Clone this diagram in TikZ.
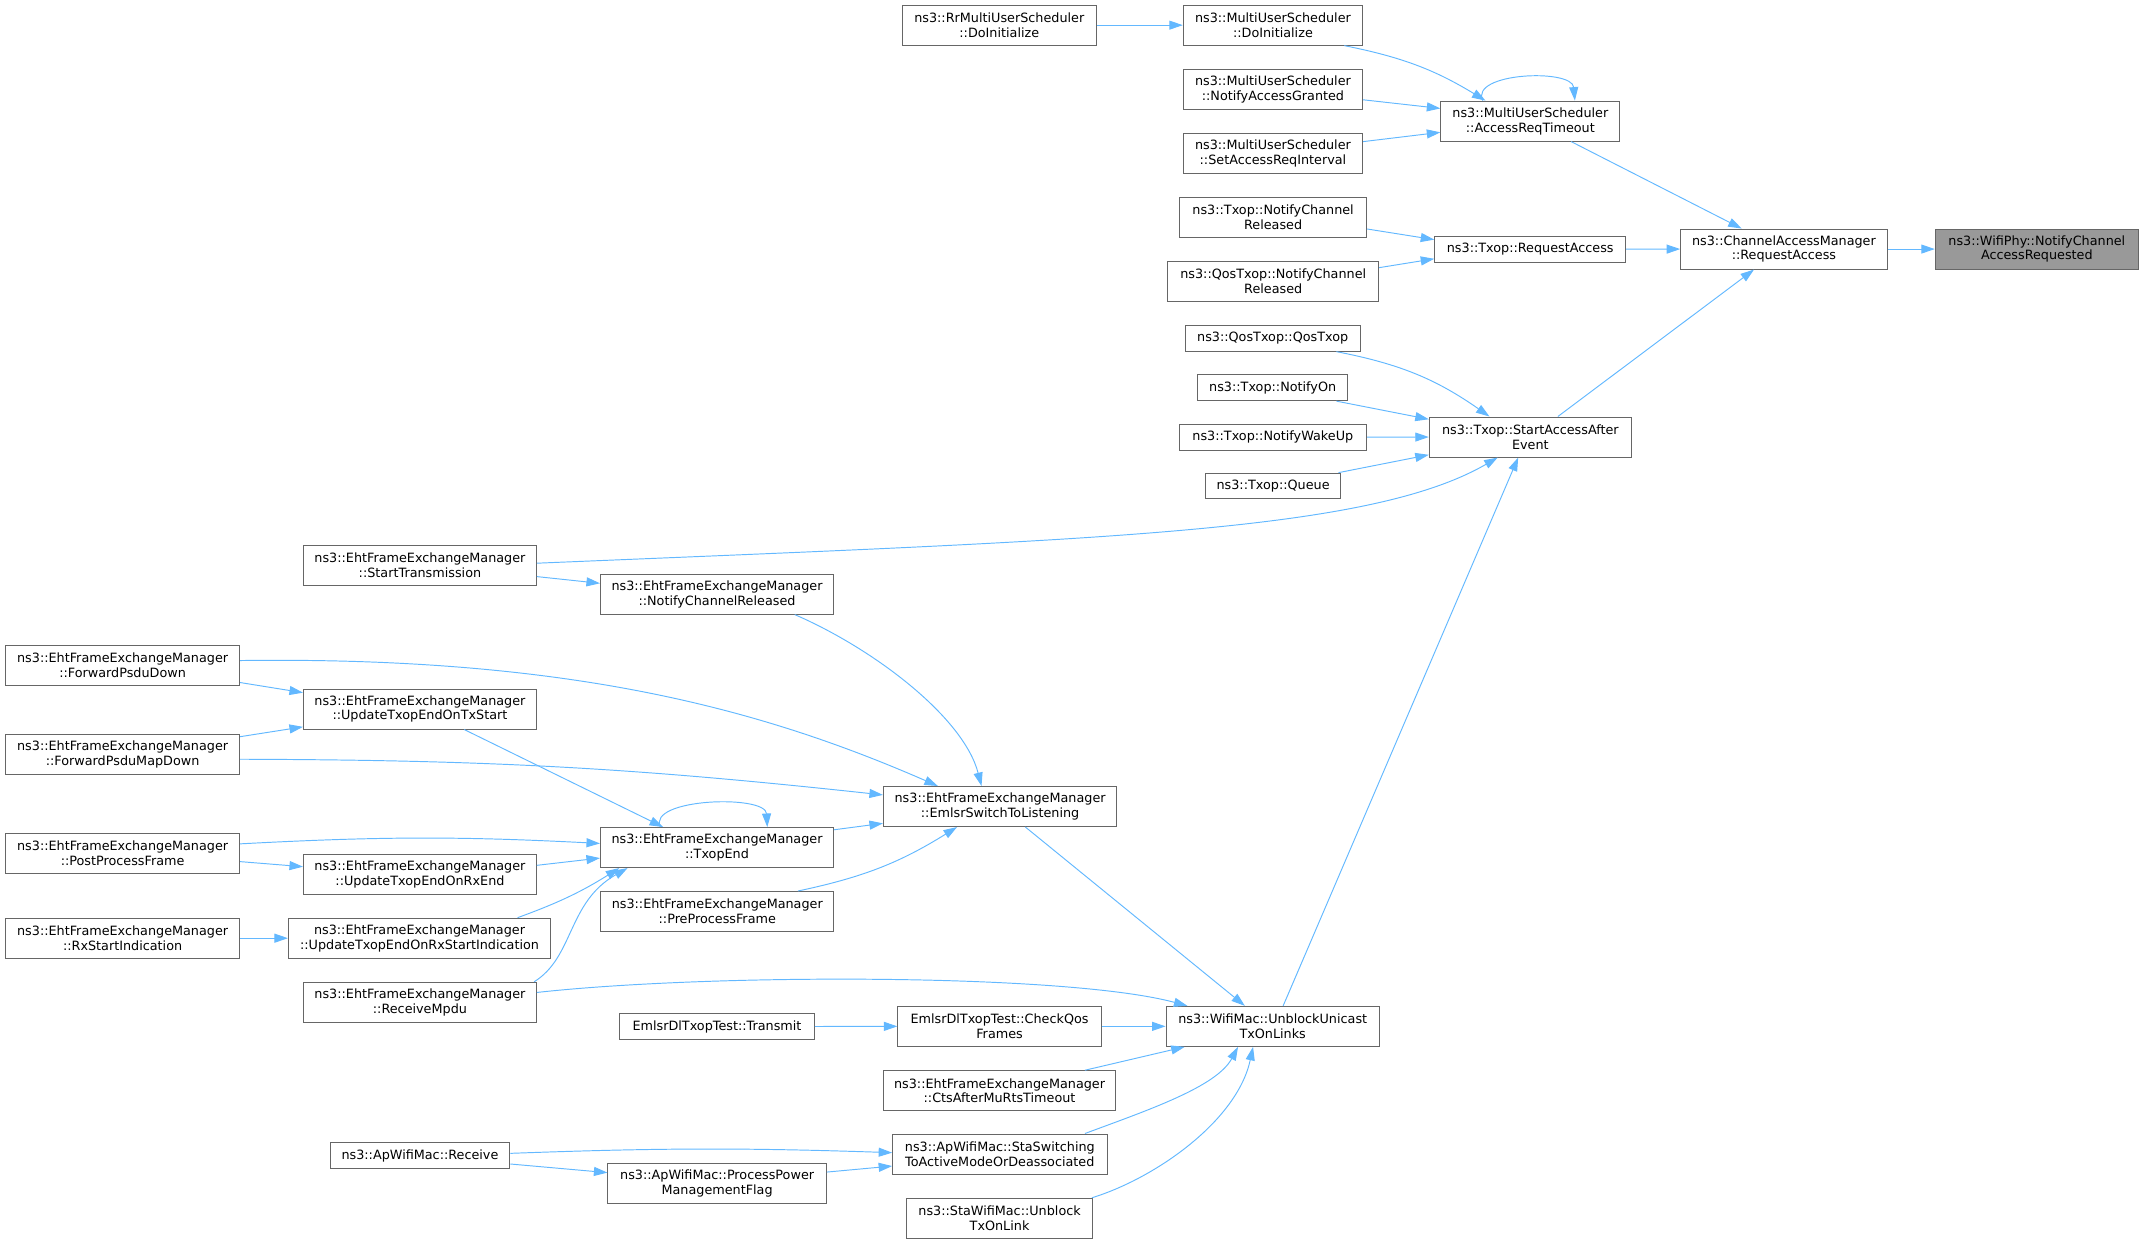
\documentclass[tikz,border=0pt]{standalone}
\usepackage{fontspec}
\setmainfont{DejaVu Sans}
\usetikzlibrary{arrows.meta}
\definecolor{edgeblue}{HTML}{63B8FF}
\definecolor{boxgray}{HTML}{666666}
\definecolor{fillgray}{HTML}{999999}
\begin{document}
\begin{tikzpicture}[x=1pt, y=-1pt,
    fn/.style={draw=boxgray, line width=0.7pt, fill=white, rectangle, align=center,
      minimum height=29.3pt, inner xsep=2pt, inner ysep=0pt,
      font=\fontsize{9.35}{10.8}\selectfont},
    fnone/.style={fn, minimum height=18.8pt},
    call/.style={draw=edgeblue, line width=0.7pt, -{Triangle[length=9.9pt, width=6.6pt]}}]
    \useasboundingbox (0,0) rectangle (1568.4,910);
    % functions
    \node[fn, fill=fillgray, minimum width=148.6pt] (phy) at (1490,182.2) {ns3::WifiPhy::NotifyChannel\\AccessRequested};
    \node[fn, minimum width=151.1pt] (cam) at (1305,182.2) {ns3::ChannelAccessManager\\::RequestAccess};
    \node[fn, minimum width=142pt] (rrInit) at (731,18.4) {ns3::RrMultiUserScheduler\\::DoInitialize};
    \node[fn, minimum width=131.2pt] (musInit) at (931.2,18.4) {ns3::MultiUserScheduler\\::DoInitialize};
    \node[fn, minimum width=131.2pt] (musGranted) at (931.2,65.3) {ns3::MultiUserScheduler\\::NotifyAccessGranted};
    \node[fn, minimum width=131.2pt] (musInterval) at (931.2,112.2) {ns3::MultiUserScheduler\\::SetAccessReqInterval};
    \node[fn, minimum width=131pt] (musTimeout) at (1119.5,88.6) {ns3::MultiUserScheduler\\::AccessReqTimeout};
    \node[fn, minimum width=136.7pt] (txopReleased) at (931.3,158.8) {ns3::Txop::NotifyChannel\\Released};
    \node[fn, minimum width=154.2pt] (qosReleased) at (931.4,205.6) {ns3::QosTxop::NotifyChannel\\Released};
    \node[fnone, minimum width=139.7pt] (txopRequest) at (1119.4,182.3) {ns3::Txop::RequestAccess};
    \node[fnone, minimum width=128pt] (qosTxop) at (931,247.5) {ns3::QosTxop::QosTxop};
    \node[fnone, minimum width=110pt] (notifyOn) at (931,283.7) {ns3::Txop::NotifyOn};
    \node[fnone, minimum width=137.2pt] (wakeUp) at (931.1,319.8) {ns3::Txop::NotifyWakeUp};
    \node[fnone, minimum width=98.8pt] (queue) at (931.3,355.5) {ns3::Txop::Queue};
    \node[fn, minimum width=147.9pt] (saae) at (1119.5,319.7) {ns3::Txop::StartAccessAfter\\Event};
    \node[fn, minimum width=170.4pt] (startTx) at (307.2,413.7) {ns3::EhtFrameExchangeManager\\::StartTransmission};
    \node[fn, minimum width=170.5pt] (ehtReleased) at (524.5,434.6) {ns3::EhtFrameExchangeManager\\::NotifyChannelReleased};
    \node[fn, minimum width=171.3pt] (fwdPsdu) at (89.7,486.7) {ns3::EhtFrameExchangeManager\\::ForwardPsduDown};
    \node[fn, minimum width=170.4pt] (txStart) at (307.2,518.7) {ns3::EhtFrameExchangeManager\\::UpdateTxopEndOnTxStart};
    \node[fn, minimum width=171.3pt] (fwdMap) at (89.7,551.7) {ns3::EhtFrameExchangeManager\\::ForwardPsduMapDown};
    \node[fn, minimum width=170.7pt] (estl) at (731.6,590) {ns3::EhtFrameExchangeManager\\::EmlsrSwitchToListening};
    \node[fn, minimum width=170.5pt] (txopEnd) at (524.5,620) {ns3::EhtFrameExchangeManager\\::TxopEnd};
    \node[fn, minimum width=171.3pt] (postProc) at (89.7,624.2) {ns3::EhtFrameExchangeManager\\::PostProcessFrame};
    \node[fn, minimum width=170.4pt] (rxEnd) at (307.2,639.5) {ns3::EhtFrameExchangeManager\\::UpdateTxopEndOnRxEnd};
    \node[fn, minimum width=170.2pt] (preProc) at (524.7,666.8) {ns3::EhtFrameExchangeManager\\::PreProcessFrame};
    \node[fn, minimum width=171.3pt] (rxStartInd) at (89.7,686.3) {ns3::EhtFrameExchangeManager\\::RxStartIndication};
    \node[fn, minimum width=191.8pt] (rxStartUpd) at (306.9,686.3) {ns3::EhtFrameExchangeManager\\::UpdateTxopEndOnRxStartIndication};
    \node[fn, minimum width=170.4pt] (recvMpdu) at (307.2,733.2) {ns3::EhtFrameExchangeManager\\::ReceiveMpdu};
    \node[fnone, minimum width=142.5pt] (transmit) at (524.5,750.9) {EmlsrDlTxopTest::Transmit};
    \node[fn, minimum width=148.8pt] (checkQos) at (731.2,750.8) {EmlsrDlTxopTest::CheckQos\\Frames};
    \node[fn, minimum width=156pt] (unblock) at (931,750.8) {ns3::WifiMac::UnblockUnicast\\TxOnLinks};
    \node[fn, minimum width=169.8pt] (ctsTimeout) at (731.2,797.9) {ns3::EhtFrameExchangeManager\\::CtsAfterMuRtsTimeout};
    \node[fnone, minimum width=131.6pt] (apRecv) at (307.2,845.4) {ns3::ApWifiMac::Receive};
    \node[fn, minimum width=156.8pt] (staSwitch) at (731.4,844.2) {ns3::ApWifiMac::StaSwitching\\ToActiveModeOrDeassociated};
    \node[fn, minimum width=159.8pt] (powerMgmt) at (524.6,866) {ns3::ApWifiMac::ProcessPower\\ManagementFlag};
    \node[fn, minimum width=136.4pt] (staUnblock) at (731.2,891.2) {ns3::StaWifiMac::Unblock\\TxOnLink};
    % calls, top part
    \draw[call] (cam.east) -- (phy.west);
    \draw[call] ([xshift=95.7pt]musTimeout.south west) -- ([xshift=45pt]cam.north west);
    \draw[call] (txopRequest.east) -- (cam.west);
    \draw[call] ([xshift=94.4pt]saae.north west) -- ([xshift=54pt]cam.south west);
    \draw[call] (rrInit.east) -- (musInit.west);
    \draw[call] ([xshift=118.2pt]musInit.south west) to[bend left=10] ([xshift=33pt]musTimeout.north west);
    \draw[call] ([yshift=-7.7pt]musGranted.east) -- ([yshift=9.3pt]musTimeout.west);
    \draw[call] ([yshift=8.6pt]musInterval.east) -- ([yshift=-8.2pt]musTimeout.west);
    \draw[call] ([xshift=31pt]musTimeout.north west) .. controls (1075,53) and (1150,50) .. ([xshift=98.4pt]musTimeout.north west);
    \draw[call] ([yshift=-8.7pt]txopReleased.east) -- ([yshift=7pt]txopRequest.west);
    \draw[call] ([yshift=9.8pt]qosReleased.east) -- ([yshift=-7pt]txopRequest.west);
    \draw[call] ([xshift=111pt]qosTxop.south west) to[bend left=12] ([xshift=44.4pt]saae.north west);
    \draw[call] ([xshift=102pt]notifyOn.south west) -- ([yshift=-2pt]saae.north west);
    \draw[call] (wakeUp.east) -- (saae.west);
    \draw[call] ([xshift=97.6pt]queue.north west) -- ([yshift=2pt]saae.south west);
    \draw[call] ([yshift=1.7pt]startTx.east) .. controls (800,395) and (1000,390) .. ([xshift=50.4pt]saae.south west);
    \draw[call] ([xshift=86pt]unblock.north west) -- ([xshift=65.4pt]saae.south west);
    % calls, middle part
    \draw[call] ([yshift=-8.1pt]startTx.east) -- ([yshift=7.9pt]ehtReleased.west);
    \draw[call] ([xshift=142.5pt]ehtReleased.south west) .. controls (640,475) and (705,525) .. ([xshift=72.1pt]estl.north west);
    \draw[call] ([yshift=3.5pt]fwdPsdu.east) .. controls (420,480) and (560,520) .. ([xshift=40.2pt]estl.north west);
    \draw[call] ([yshift=-12.6pt]fwdPsdu.east) -- ([yshift=12pt]txStart.west);
    \draw[call] ([yshift=12.8pt]fwdMap.east) -- ([yshift=-13pt]txStart.west);
    \draw[call] ([yshift=-3.7pt]fwdMap.east) to[bend left=3] ([yshift=8.5pt]estl.west);
    \draw[call] ([xshift=118pt]txStart.south west) -- ([xshift=46.2pt]txopEnd.north west);
    \draw[call] ([xshift=44.2pt]txopEnd.north west) .. controls (473,584) and (560,581) .. ([xshift=122.4pt]txopEnd.north west);
    \draw[call] ([yshift=13pt]txopEnd.east) -- ([yshift=2.7pt]estl.south west);
    \draw[call] ([xshift=144.4pt]preProc.north west) to[bend right=10] ([xshift=54.2pt]estl.south west);
    \draw[call] ([yshift=6.9pt]postProc.east) to[bend left=3] ([yshift=3pt]txopEnd.west);
    \draw[call] ([yshift=-6.1pt]postProc.east) -- ([yshift=5.5pt]rxEnd.west);
    \draw[call] ([yshift=6.5pt]rxEnd.east) -- ([yshift=-7.7pt]txopEnd.west);
    \draw[call] (rxStartInd.east) -- (rxStartUpd.west);
    \draw[call] ([xshift=168pt]rxStartUpd.north west) to[bend right=6] ([xshift=14.1pt]txopEnd.south west);
    \draw[call] ([xshift=-2pt]recvMpdu.north east) .. controls (420,700) and (415,660) .. ([xshift=20.2pt]txopEnd.south west);
    % calls, bottom part
    \draw[call] ([yshift=7.2pt]recvMpdu.east) .. controls (520,712) and (780,712) .. ([xshift=16pt]unblock.north west);
    \draw[call] ([xshift=104.2pt]estl.south west) -- ([xshift=58pt]unblock.north west);
    \draw[call] (transmit.east) -- (checkQos.west);
    \draw[call] (checkQos.east) -- (unblock.west);
    \draw[call] ([xshift=147.7pt]ctsTimeout.north west) -- ([xshift=14pt]unblock.south west);
    \draw[call] ([xshift=141pt]staSwitch.north west) .. controls (840,812) and (890,795) .. ([xshift=53pt]unblock.south west);
    \draw[call] ([xshift=-1pt]staUnblock.north east) .. controls (845,862) and (905,820) .. ([xshift=64pt]unblock.south west);
    \draw[call] ([yshift=1.7pt]apRecv.east) to[bend left=2] ([yshift=1pt]staSwitch.west);
    \draw[call] ([yshift=-6.1pt]apRecv.east) -- ([yshift=8.2pt]powerMgmt.west);
    \draw[call] ([yshift=8.6pt]powerMgmt.east) -- ([yshift=-8.8pt]staSwitch.west);
\end{tikzpicture}
\end{document}
